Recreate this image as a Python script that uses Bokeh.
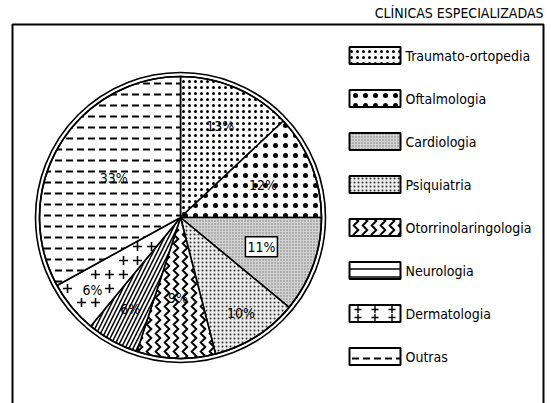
import numpy as np
from bokeh.plotting import figure
from bokeh.models import ColumnDataSource, Range1d, Label
from bokeh.embed import file_html
from bokeh.resources import INLINE

# ---- data ----
title = "CLÍNICAS ESPECIALIZADAS"
categories = ["Traumato-ortopedia", "Oftalmologia", "Cardiologia", "Psiquiatria",
              "Otorrinolaringologia", "Neurologia", "Dermatologia", "Outras"]
shares = [13, 12, 11, 10, 9, 6, 6, 33]
pct_labels = ["13%", "12%", "11%", "10%", "9%", "6%", "6%", "33%"]

# ---- styles ----
FONT = "DejaVu Sans Condensed, Roboto, sans-serif"
W, H = 551, 403
fill_colors = ["white", "white", "#d2d2d2", "#ececec", "white", "white", "white", "white"]
hatch_pie = ["dot", "dot", "dot", "dot", "vertical_wave", "right_diagonal_line", " ", "horizontal_dash"]
hatch_leg = ["dot", "dot", "dot", "dot", "vertical_wave", "horizontal_line", " ", "horizontal_dash"]
hatch_scale = [6, 10, 3, 4, 9, 8, 8, 11]
hatch_weight = [1, 4, 0.6, 1.3, 2, 1.5, 1, 2]
hatch_color = ["black", "black", "#777777", "#333333", "black", "black", "black", "black"]
label_r = [0.71, 0.63, 0.61, 0.80, 0.57, 0.74, 0.81, 0.55]
label_boxed = [False, False, True, False, False, False, False, False]

p = figure(width=W, height=H, output_backend="svg", toolbar_location=None,
           x_range=Range1d(0, W), y_range=Range1d(0, H), min_border=0)
p.axis.visible = False
p.grid.visible = False
p.outline_line_color = None

# frame (left, top, right)
p.line(x=[12, 12, 543, 543], y=[0, H - 24, H - 24, 0], line_color="black", line_width=2)

# title
p.add_layout(Label(x=543, y=H - 12, text=title, text_align="right", text_baseline="middle",
                   text_font=FONT, text_font_size="14px", text_color="black"))

# pie
cx, cy = 180, H - 217
R_out, R_in = 145, 141
vals = np.array(shares, dtype=float)
frac = vals / vals.sum()
cum = np.concatenate([[0], np.cumsum(frac)])
start = np.pi / 2 - 2 * np.pi * cum[:-1]
end = np.pi / 2 - 2 * np.pi * cum[1:]
mid = (start + end) / 2
lab_x = cx + np.array(label_r) * R_in * np.cos(mid)
lab_y = cy + np.array(label_r) * R_in * np.sin(mid)

src = ColumnDataSource(dict(start=start, end=end, fill=fill_colors, hp=hatch_pie,
                            hs=hatch_scale, hw=hatch_weight, hc=hatch_color))
p.wedge(x=cx, y=cy, radius=R_in, radius_units="screen", start_angle="start", end_angle="end",
        direction="clock", source=src, fill_color="fill", hatch_pattern="hp",
        hatch_scale="hs", hatch_weight="hw", hatch_color="hc",
        line_color="black", line_width=1.6)

# plus signs for Dermatologia
di = categories.index("Dermatologia")
a0, a1 = end[di], start[di]
gx, gy = np.meshgrid(np.arange(cx - R_in, cx + R_in, 14), np.arange(cy - R_in, cy + R_in, 14))
gx, gy = gx.ravel(), gy.ravel()
rr = np.hypot(gx - cx, gy - cy)
aa = np.arctan2(gy - cy, gx - cx)
aa = np.where(aa > a1, aa - 2 * np.pi, aa)
aa = np.where(aa < a0, aa + 2 * np.pi, aa)
m = (rr > 28) & (rr < R_in - 5) & (aa > a0 + 0.05) & (aa < a1 - 0.05)
m &= ~((np.abs(gx - lab_x[di]) < 14) & (np.abs(gy - lab_y[di]) < 9))
p.scatter(gx[m], gy[m], marker="cross", size=9, line_color="black", line_width=1.6)

# outer double ring
p.circle(x=cx, y=cy, radius=R_in, radius_units="screen", fill_color=None, line_color="black", line_width=1.6)
p.circle(x=cx, y=cy, radius=R_out, radius_units="screen", fill_color=None, line_color="black", line_width=1.6)

# percentage labels
for i, t in enumerate(pct_labels):
    kw = {}
    if label_boxed[i]:
        kw = dict(background_fill_color="white", border_line_color="black", border_line_width=1.5,
                  padding=2)
    p.add_layout(Label(x=lab_x[i], y=lab_y[i], text=t, text_align="center", text_baseline="middle",
                       text_font=FONT, text_font_size="14px", text_color="black", **kw))

# legend
n = len(categories)
ly_leg = H - 55 - 43 * np.arange(n)
bx = 374.5
lsrc = ColumnDataSource(dict(x=np.full(n, bx), y=ly_leg, fill=fill_colors, hp=hatch_leg,
                             hs=hatch_scale, hw=hatch_weight, hc=hatch_color))
p.rect(x="x", y="y", width=51, height=17, source=lsrc, fill_color="fill", hatch_pattern="hp",
       hatch_scale="hs", hatch_weight="hw", hatch_color="hc", line_color="black", line_width=2)
lx_in = bx + np.array([-17, 0, 17, -17, 0, 17])
ly_in = np.array([4, -4, 4, -4, 4, -4])
dy = ly_leg[di]
p.scatter(lx_in, dy + ly_in, marker="cross", size=7, line_color="black", line_width=1.4)
for i, c in enumerate(categories):
    p.add_layout(Label(x=405, y=ly_leg[i], text=c, text_align="left", text_baseline="middle",
                       text_font=FONT, text_font_size="14px", text_color="black"))

open("out.html", "w").write(file_html(p, INLINE))
